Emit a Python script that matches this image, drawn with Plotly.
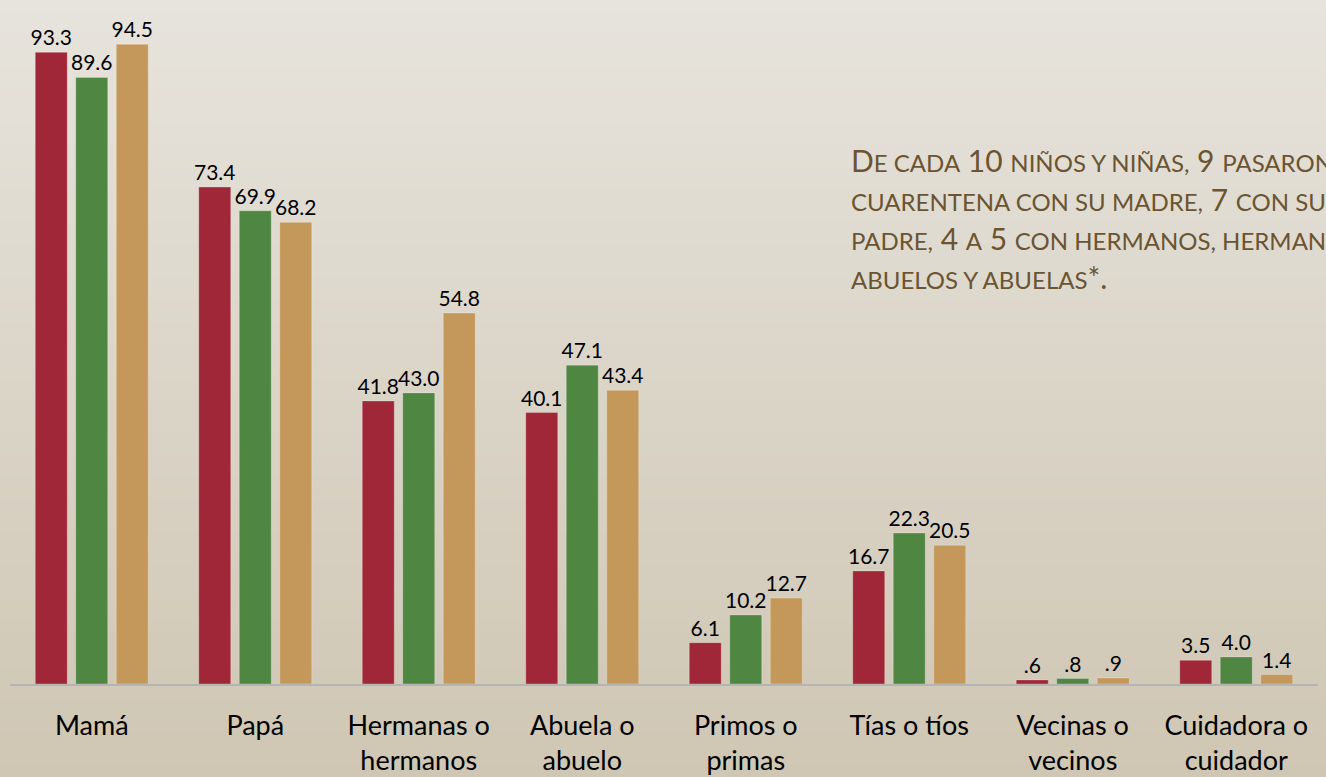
import plotly.graph_objects as go

categories = ["Mamá", "Papá", "Hermanas o<br>hermanos", "Abuela o<br>abuelo",
              "Primos o<br>primas", "Tías o tíos", "Vecinas o<br>vecinos", "Cuidadora o<br>cuidador"]
serie_1 = [93.3, 73.4, 41.8, 40.1, 6.1, 16.7, 0.6, 3.5]
serie_2 = [89.6, 69.9, 43.0, 47.1, 10.2, 22.3, 0.8, 4.0]
serie_3 = [94.5, 68.2, 54.8, 43.4, 12.7, 20.5, 0.9, 1.4]
series_names = ["Serie 1", "Serie 2", "Serie 3"]
colors = ["#A02738", "#4E8642", "#C4985A"]


def fmt(v):
    s = f"{v:.1f}"
    return s[1:] if s.startswith("0") else s


W, H = 1326, 777
ml, mr, mt, mb = 10, 8, 7, 93
ph = H - mt - mb

fig = go.Figure()
for name, vals, col in zip(series_names, [serie_1, serie_2, serie_3], colors):
    fig.add_trace(go.Bar(
        x=categories, y=vals, name=name,
        marker=dict(color=col, line=dict(color="rgba(255,255,255,0.25)", width=1)),
        text=[fmt(v) for v in vals], textposition="outside",
        textfont=dict(family="Lato", size=21, color="#000000"),
        constraintext="none", cliponaxis=False,
    ))

# background gradient stripes
top_rgb = (231, 228, 221)
bot_rgb = (207, 198, 179)
n = 70
shapes = []
for i in range(n):
    p0 = H * i / n
    p1 = H * (i + 1) / n + 1
    t = (i + 0.5) / n
    c = tuple(round(a + (b - a) * t) for a, b in zip(top_rgb, bot_rgb))
    shapes.append(dict(type="rect", xref="paper", yref="paper", layer="below",
                       x0=-0.05, x1=1.05,
                       y0=(H - mb - p1) / ph, y1=(H - mb - p0) / ph,
                       line=dict(width=0), fillcolor=f"rgb{c}"))

sc = 'style="font-size:24px"'
title_lines = [
    f"D<span {sc}>E CADA</span> 10 <span {sc}>NIÑOS Y NIÑAS,</span> 9 <span {sc}>PASARON LA</span>",
    f"<span {sc}>CUARENTENA CON SU MADRE,</span> 7 <span {sc}>CON SU</span>",
    f"<span {sc}>PADRE,</span> 4 <span {sc}>A</span> 5 <span {sc}>CON HERMANOS, HERMANAS,</span>",
    f"<span {sc}>ABUELOS Y ABUELAS</span>*.",
]

fig.update_layout(
    width=W, height=H,
    margin=dict(l=ml, r=mr, t=mt, b=mb, autoexpand=False),
    paper_bgcolor="rgb(222,217,206)", plot_bgcolor="rgba(0,0,0,0)",
    barmode="group", bargap=0.257, bargroupgap=0.21,
    showlegend=False, shapes=shapes,
    xaxis=dict(showline=True, linecolor="#B4B4B4", linewidth=1.5, ticks="",
               tickfont=dict(family="Lato", size=27, color="#000000"),
               ticklabelstandoff=17, showgrid=False, automargin=False),
    yaxis=dict(range=[0, 100], visible=False, showgrid=False, automargin=False),
    annotations=[dict(xref="paper", yref="paper", x=(849 - ml) / (W - ml - mr), y=(H - mb - 140) / ph,
                      xanchor="left", yanchor="top", align="left", showarrow=False,
                      text="<br>".join(title_lines),
                      font=dict(family="Lato", size=30, color="#6B5431"))],
)

fig.write_html("out.html", config={"displayModeBar": False},
               post_script="document.body.style.margin='0';document.body.style.overflow='hidden';")
